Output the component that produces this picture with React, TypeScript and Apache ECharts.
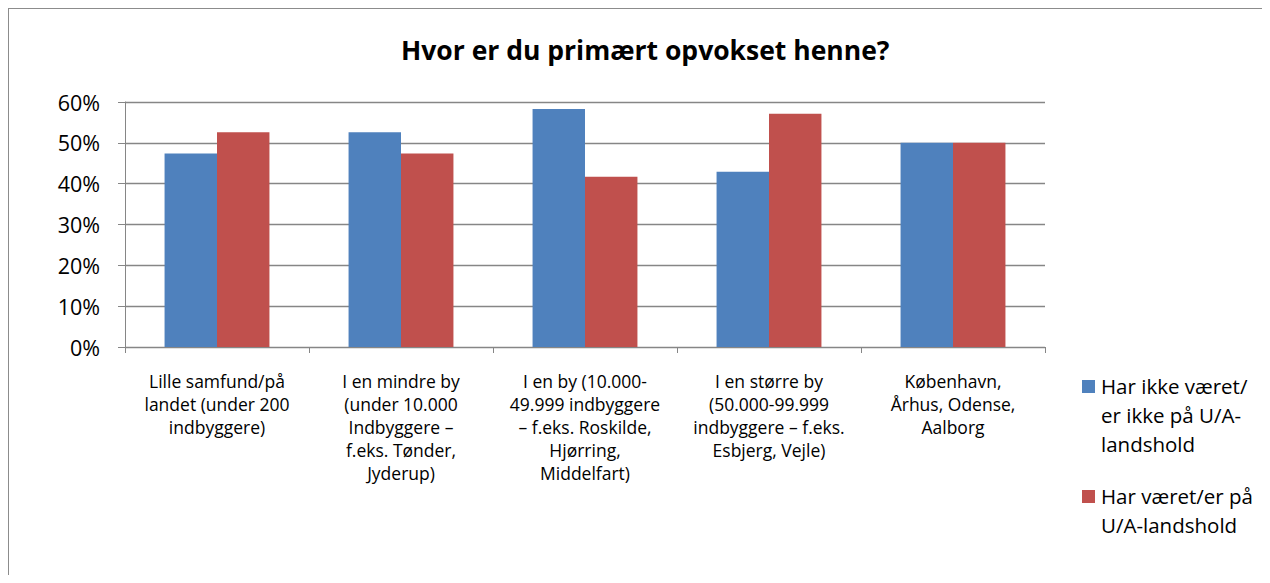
import React, { useEffect, useRef } from "react";
import * as echarts from "echarts";

const title = "Hvor er du primært opvokset henne?";
const categories = [
  "Lille samfund/på\nlandet (under 200\nindbyggere)",
  "I en mindre by\n(under 10.000\nIndbyggere –\nf.eks. Tønder,\nJyderup)",
  "I en by (10.000-\n49.999 indbyggere\n– f.eks. Roskilde,\nHjørring,\nMiddelfart)",
  "I en større by\n(50.000-99.999\nindbyggere – f.eks.\nEsbjerg, Vejle)",
  "København,\nÅrhus, Odense,\nAalborg",
];
const seriesNames = ["Har ikke været/ er ikke på U/A-landshold", "Har været/er på U/A-landshold"];
const legendLines = [
  "Har ikke været/\ner ikke på U/A-\nlandshold",
  "Har været/er på\nU/A-landshold",
];
const notPlayed = [47.4, 52.6, 58.3, 42.9, 50.0];
const played = [52.6, 47.4, 41.7, 57.1, 50.0];
const colors = ["#4F81BD", "#C0504D"];

const FONT = "'Open Sans', Lato, sans-serif";

export default function App() {
  const ref = useRef<HTMLDivElement>(null);
  useEffect(() => {
    if (!ref.current) return;
    const chart = echarts.init(ref.current, null, { renderer: "svg" });
    const legendY = [372, 482];
    chart.setOption({
      animation: false,
      backgroundColor: "#fff",
      textStyle: { fontFamily: FONT },
      title: {
        text: title,
        left: 388,
        top: 23,
        textStyle: { fontFamily: FONT, fontSize: 26.5, fontWeight: "bold", color: "#000" },
      },
      grid: { left: 117, right: 217, top: 94, bottom: 228 },
      xAxis: {
        type: "category",
        data: categories,
        axisLine: { show: true, lineStyle: { color: "#868686", width: 1 } },
        axisTick: { show: true, length: 6, lineStyle: { color: "#868686" } },
        axisLabel: {
          interval: 0,
          margin: 22,
          color: "#000",
          fontSize: 17.5,
          lineHeight: 23,
          fontFamily: FONT,
          align: "center",
        },
      },
      yAxis: {
        type: "value",
        min: 0,
        max: 60,
        interval: 10,
        axisLine: { show: true, lineStyle: { color: "#868686", width: 1 } },
        axisTick: { show: true, length: 7, lineStyle: { color: "#868686" } },
        splitLine: { show: true, lineStyle: { color: "#868686", width: 1.3 } },
        axisLabel: {
          formatter: "{value}%",
          margin: 25,
          color: "#000",
          fontSize: 21.5,
          fontFamily: FONT,
        },
      },
      series: [
        {
          name: seriesNames[0],
          type: "bar",
          data: notPlayed,
          itemStyle: { color: colors[0] },
          barGap: "0%",
          barCategoryGap: "43%",
        },
        {
          name: seriesNames[1],
          type: "bar",
          data: played,
          itemStyle: { color: colors[1] },
          barGap: "0%",
          barCategoryGap: "43%",
        },
      ],
      graphic: [
        {
          type: "rect",
          shape: { x: 0, y: 0, width: 1300, height: 620 },
          style: { fill: "none", stroke: "#8C8C8C", lineWidth: 2 },
          silent: true,
        },
        ...legendLines.flatMap((txt, i) => [
          {
            type: "rect",
            shape: { x: 1074, y: legendY[i], width: 13, height: 13 },
            style: { fill: colors[i] },
          },
          {
            type: "text",
            x: 1093,
            y: legendY[i] - 9,
            style: {
              text: txt,
              fill: "#000",
              fontSize: 20.5,
              lineHeight: 29,
              fontFamily: FONT,
            },
          },
        ]),
      ],
    });
    return () => chart.dispose();
  }, []);
  return <div ref={ref} style={{ width: 1254, height: 567 }} />;
}
